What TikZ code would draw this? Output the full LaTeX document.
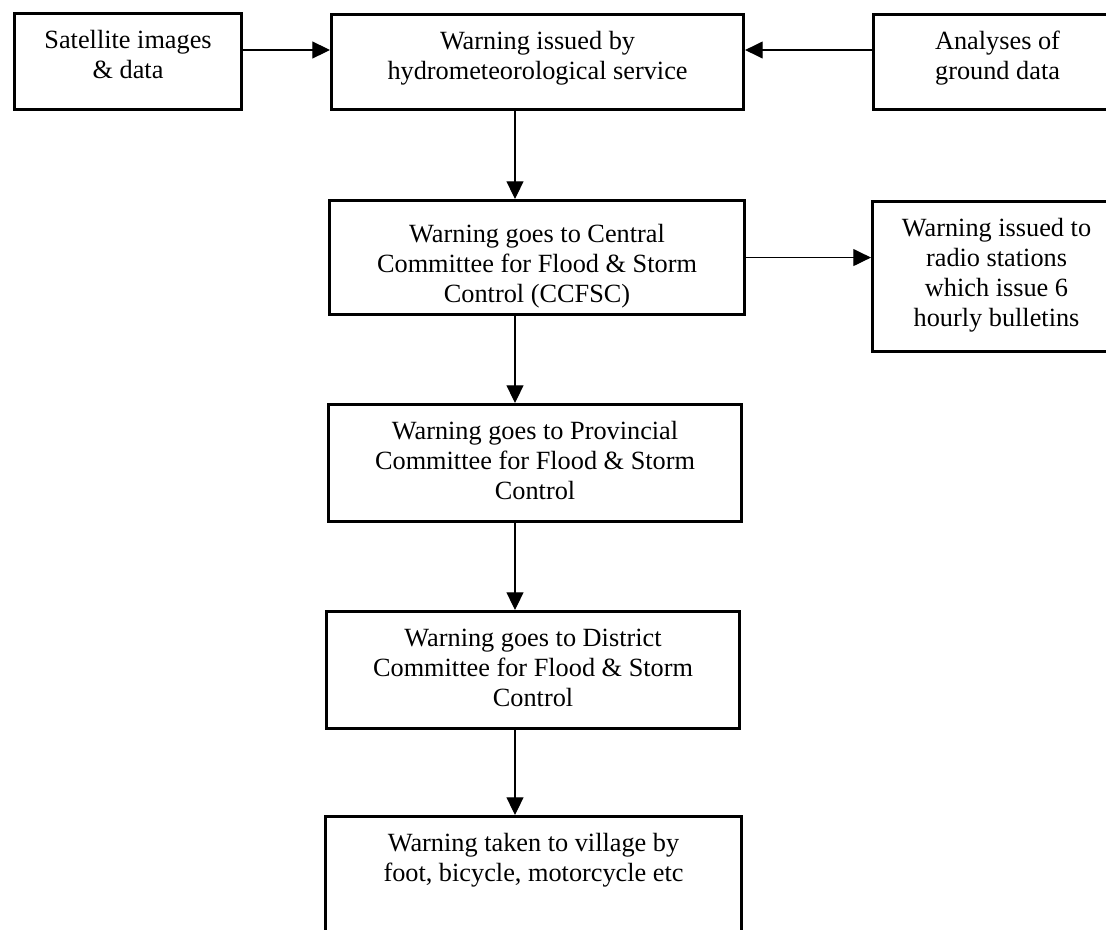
\documentclass[tikz,border=0pt]{standalone}
\usepackage{fontspec}
\setmainfont{Liberation Serif}
\usetikzlibrary{arrows.meta}

\newdimen\px \px=0.025cm
% box body: width, height (px), text set from the top
\newcommand{\cardbody}[3]{\parbox[t][#2\px][t]{#1\px}{\centering\rule{0pt}{25pt}#3}}

\tikzset{
  card/.style={draw, line width=2.2pt, inner sep=0pt, anchor=north west},
  flow/.style={line width=0.8pt, -{Triangle[length=12.5pt,width=12pt]}}
}

\begin{document}
\begin{tikzpicture}[x=1\px, y=-1\px, font=\fontsize{18.7}{21.3}\selectfont]
  \useasboundingbox (0,0) rectangle (1106,929);
  \clip (0,0) rectangle (1106,929);

  % top row
  \node[card] (sat)  at (13,12)  {\cardbody{227}{96}{Satellite images\\ \& data}};
  \node[card] (warn) at (330,13) {\cardbody{412}{95}{Warning issued by\\ hydrometeorological service}};
  \node[card] (anal) at (872,13) {\cardbody{248}{95}{Analyses of\\ ground data}};

  % chain of committees
  \node[card] (ccfsc) at (328,199) {\cardbody{415}{114}{\rule{0pt}{30pt}Warning goes to Central\\ Committee for Flood \& Storm\\ Control (CCFSC)}};
  \node[card] (radio) at (871,200) {\cardbody{248}{150}{Warning issued to\\ radio stations\\ which issue 6\\ hourly bulletins}};
  \node[card] (prov)  at (327,403) {\cardbody{413}{117}{Warning goes to Provincial\\ Committee for Flood \& Storm\\ Control}};
  \node[card] (dist)  at (325,610) {\cardbody{413}{117}{Warning goes to District\\ Committee for Flood \& Storm\\ Control}};
  \node[card] (vill)  at (324,815) {\cardbody{416}{150}{Warning taken to village by\\ foot, bicycle, motorcycle etc}};

  \coordinate (feed)  at (0,50);
  \coordinate (spine) at (515,0);

  \draw[flow] (sat.east |- feed) -- (warn.west |- feed);
  \draw[flow] (anal.west |- feed) -- (warn.east |- feed);
  \draw[flow] (warn.south -| spine) -- (ccfsc.north -| spine);
  \draw[flow] (ccfsc.east) -- (radio.west |- ccfsc.east);
  \draw[flow] (ccfsc.south -| spine) -- (prov.north -| spine);
  \draw[flow] (prov.south -| spine) -- (dist.north -| spine);
  \draw[flow] (dist.south -| spine) -- (vill.north -| spine);
\end{tikzpicture}
\end{document}
